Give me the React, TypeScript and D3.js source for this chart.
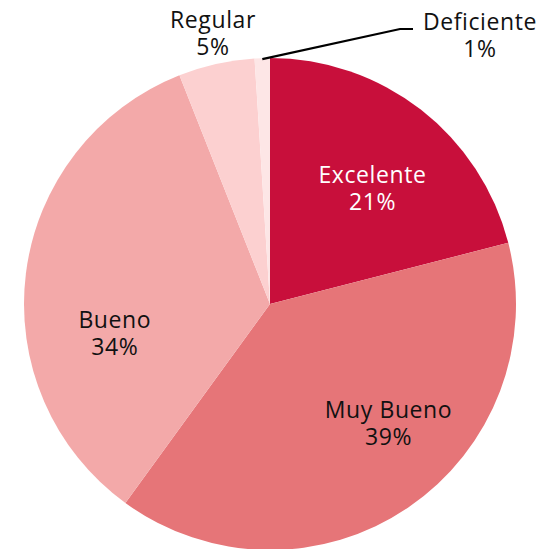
import React, { useEffect, useRef } from 'react';
import * as d3 from 'd3';

const categories = ['Excelente', 'Muy Bueno', 'Bueno', 'Regular', 'Deficiente'];
const values = [21, 39, 34, 5, 1];
const colors = ['#c80f3b', '#e67578', '#f3a9a9', '#fcd0d0', '#fde6e6'];

const W = 546;
const H = 549;

export default function App () {
	const node = useRef<SVGSVGElement | null>(null);

	useEffect(() => {
		const svg = d3.select(node.current);
		svg.selectAll('*').remove();

		const cx = 270, cy = 304, radius = 246;
		const data = categories.map((name, i) => ({ name, value: values[i], color: colors[i] }));

		const pie = d3.pie<any>().value(d => d.value).sort(null);
		const arc = d3.arc<any>().innerRadius(0).outerRadius(radius);
		const labelArc = d3.arc<any>().innerRadius(radius * 0.64).outerRadius(radius * 0.64);

		const g = svg.append('g').attr('transform', `translate(${cx},${cy})`);
		const arcs = pie(data);

		g.selectAll('path.slice')
			.data(arcs)
			.enter().append('path')
			.attr('class', 'slice')
			.attr('d', arc)
			.attr('fill', d => d.data.color);

		// small tweaks so labels sit where the original has them
		const nudge: Record<string, [number, number]> = {
			'Excelente': [6, 3],
			'Muy Bueno': [30, -16],
			'Bueno': [1, 44]
		};

		const fontFamily = "'Open Sans', sans-serif";

		arcs.forEach(d => {
			let x: number, y: number;
			if (d.data.value >= 10) {
				const c = labelArc.centroid(d);
				x = c[0] + nudge[d.data.name][0];
				y = c[1] + nudge[d.data.name][1];
			} else if (d.data.name === 'Regular') {
				x = -57;
				y = -276;
			} else {
				x = 210;
				y = -274;
				// leader line
				const a = (d.startAngle + d.endAngle) / 2;
				const px = Math.sin(a) * (radius - 1);
				const py = -Math.cos(a) * (radius - 1);
				g.append('path')
					.attr('d', `M${px},${py}L130,-275L143,-275`)
					.attr('fill', 'none')
					.attr('stroke', '#000')
					.attr('stroke-width', 2.2);
			}
			const fill = d.data.name === 'Excelente' ? '#fff' : '#111';
			const t = g.append('text')
				.attr('text-anchor', 'middle')
				.style('font-family', fontFamily)
				.style('font-size', '23px')
				.style('letter-spacing', '0.6px')
				.attr('fill', fill);
			t.append('tspan').attr('x', x).attr('y', y).text(d.data.name);
			t.append('tspan').attr('x', x).attr('y', y + 27).text(d.data.value + '%');
		});
	}, []);

	return (
		<svg ref={node} width={W} height={H}
			style={{ position: 'absolute', left: 0, top: 0, background: '#fff' }}>
		</svg>
	);
}
